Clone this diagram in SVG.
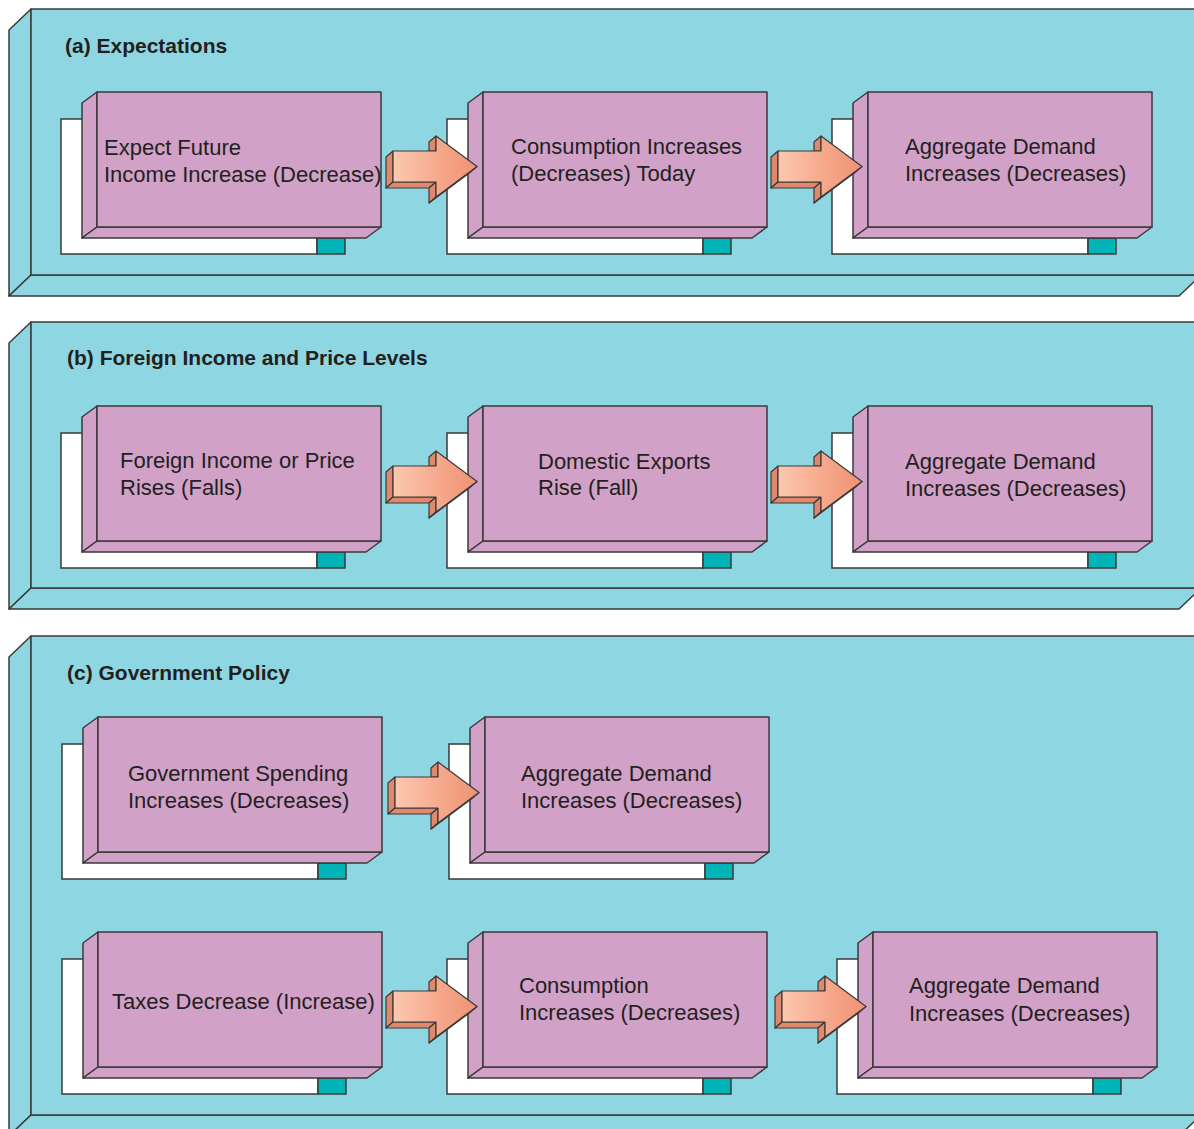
<svg xmlns="http://www.w3.org/2000/svg" xmlns:xlink="http://www.w3.org/1999/xlink" width="1194" height="1129" viewBox="0 0 1194 1129">
<defs>
<style>
.panel{fill:#8fd6e3;stroke:#3a3a3a;stroke-width:1.5;stroke-linejoin:round}
.wh{fill:#ffffff;stroke:#3a3a3a;stroke-width:1.5}
.tl{fill:#00b4b8;stroke:#3a3a3a;stroke-width:1.5}
.pk{fill:#d1a1c8;stroke:#3a3a3a;stroke-width:1.5;stroke-linejoin:round}
.t{font-family:"Liberation Sans",Arial,sans-serif;font-size:22px;fill:#231f20}
.h{font-family:"Liberation Sans",Arial,sans-serif;font-size:21px;font-weight:bold;fill:#231f20}
.as{fill:#e0886b;stroke:#3a3a3a;stroke-width:1.2;stroke-linejoin:round}
.af{fill:url(#ag);stroke:#3a3a3a;stroke-width:1.2;stroke-linejoin:round}
</style>
<linearGradient id="ag" x1="0" y1="0" x2="1" y2="0">
<stop offset="0" stop-color="#fcc8b0"/>
<stop offset="0.6" stop-color="#f5a588"/>
<stop offset="1" stop-color="#ef9274"/>
</linearGradient>
<g id="box">
<rect class="wh" x="-36" y="27" width="256" height="135"/>
<rect class="tl" x="220" y="146" width="28" height="16"/>
<path class="pk" d="M0,0 L-15,11 L-15,146 L0,135 Z"/>
<path class="pk" d="M0,135 L-15,146 L269,146 L284,135 Z"/>
<rect class="pk" x="0" y="0" width="284" height="135"/>
</g>
<g id="arrow">
<path class="as" d="M0,0 L-7,6 L-7,37 L0,31 Z"/>
<path class="as" d="M0,31 L-7,37 L36,37 L43,31 Z"/>
<path class="as" d="M43,31 L36,37 L36,52 L43,46 Z"/>
<path class="as" d="M43,-15 L36,-9 L36,0 L43,0 Z"/>
<path class="as" d="M84,15.5 L77,21.5 L36,52 L43,46 Z"/>
<path class="af" d="M0,0 L43,0 L43,-15 L84,15.5 L43,46 L43,31 L0,31 Z"/>
</g>
</defs>

<rect x="0" y="0" width="1194" height="1129" fill="#ffffff"/>

<g id="panel-a">
<path class="panel" d="M31,9 L9,30 L9,296 L31,275 Z"/>
<path class="panel" d="M31,275 L9,296 L1179,296 L1201,275 Z"/>
<rect class="panel" x="31" y="9" width="1170" height="266"/>
<text class="h" x="65" y="53">(a) Expectations</text>
</g>
<g id="panel-b">
<path class="panel" d="M31,322 L9,343 L9,609 L31,588 Z"/>
<path class="panel" d="M31,588 L9,609 L1179,609 L1201,588 Z"/>
<rect class="panel" x="31" y="322" width="1170" height="266"/>
<text class="h" x="67" y="365">(b) Foreign Income and Price Levels</text>
</g>
<g id="panel-c">
<path class="panel" d="M31,636 L9,657 L9,1136 L31,1115 Z"/>
<path class="panel" d="M31,1115 L9,1136 L1179,1136 L1201,1115 Z"/>
<rect class="panel" x="31" y="636" width="1170" height="479"/>
<text class="h" x="67" y="680">(c) Government Policy</text>
</g>

<g id="node-a1">
<use xlink:href="#box" href="#box" transform="translate(97,92)"/>
<text class="t" x="104" y="155">Expect Future</text>
<text class="t" x="104" y="182">Income Increase (Decrease)</text>
</g>
<g id="node-a2">
<use xlink:href="#box" href="#box" transform="translate(483,92)"/>
<text class="t" x="511" y="154">Consumption Increases</text>
<text class="t" x="511" y="181">(Decreases) Today</text>
</g>
<g id="node-a3">
<use xlink:href="#box" href="#box" transform="translate(868,92)"/>
<text class="t" x="905" y="154">Aggregate Demand</text>
<text class="t" x="905" y="181">Increases (Decreases)</text>
</g>

<g id="node-b1">
<use xlink:href="#box" href="#box" transform="translate(97,406)"/>
<text class="t" x="120" y="468">Foreign Income or Price</text>
<text class="t" x="120" y="495">Rises (Falls)</text>
</g>
<g id="node-b2">
<use xlink:href="#box" href="#box" transform="translate(483,406)"/>
<text class="t" x="538" y="469">Domestic Exports</text>
<text class="t" x="538" y="495">Rise (Fall)</text>
</g>
<g id="node-b3">
<use xlink:href="#box" href="#box" transform="translate(868,406)"/>
<text class="t" x="905" y="469">Aggregate Demand</text>
<text class="t" x="905" y="496">Increases (Decreases)</text>
</g>

<g id="node-c1">
<use xlink:href="#box" href="#box" transform="translate(98,717)"/>
<text class="t" x="128" y="781">Government Spending</text>
<text class="t" x="128" y="808">Increases (Decreases)</text>
</g>
<g id="node-c2">
<use xlink:href="#box" href="#box" transform="translate(485,717)"/>
<text class="t" x="521" y="781">Aggregate Demand</text>
<text class="t" x="521" y="808">Increases (Decreases)</text>
</g>
<g id="node-c3">
<use xlink:href="#box" href="#box" transform="translate(98,932)"/>
<text class="t" x="112" y="1009">Taxes Decrease (Increase)</text>
</g>
<g id="node-c4">
<use xlink:href="#box" href="#box" transform="translate(483,932)"/>
<text class="t" x="519" y="993">Consumption</text>
<text class="t" x="519" y="1020">Increases (Decreases)</text>
</g>
<g id="node-c5">
<use xlink:href="#box" href="#box" transform="translate(873,932)"/>
<text class="t" x="909" y="993">Aggregate Demand</text>
<text class="t" x="909" y="1021">Increases (Decreases)</text>
</g>

<g id="connectors">
<use xlink:href="#arrow" href="#arrow" transform="translate(393,151)"/>
<use xlink:href="#arrow" href="#arrow" transform="translate(778,151)"/>
<use xlink:href="#arrow" href="#arrow" transform="translate(393,466)"/>
<use xlink:href="#arrow" href="#arrow" transform="translate(778,466)"/>
<use xlink:href="#arrow" href="#arrow" transform="translate(395,777)"/>
<use xlink:href="#arrow" href="#arrow" transform="translate(393,991)"/>
<use xlink:href="#arrow" href="#arrow" transform="translate(782,991)"/>
</g>
</svg>
